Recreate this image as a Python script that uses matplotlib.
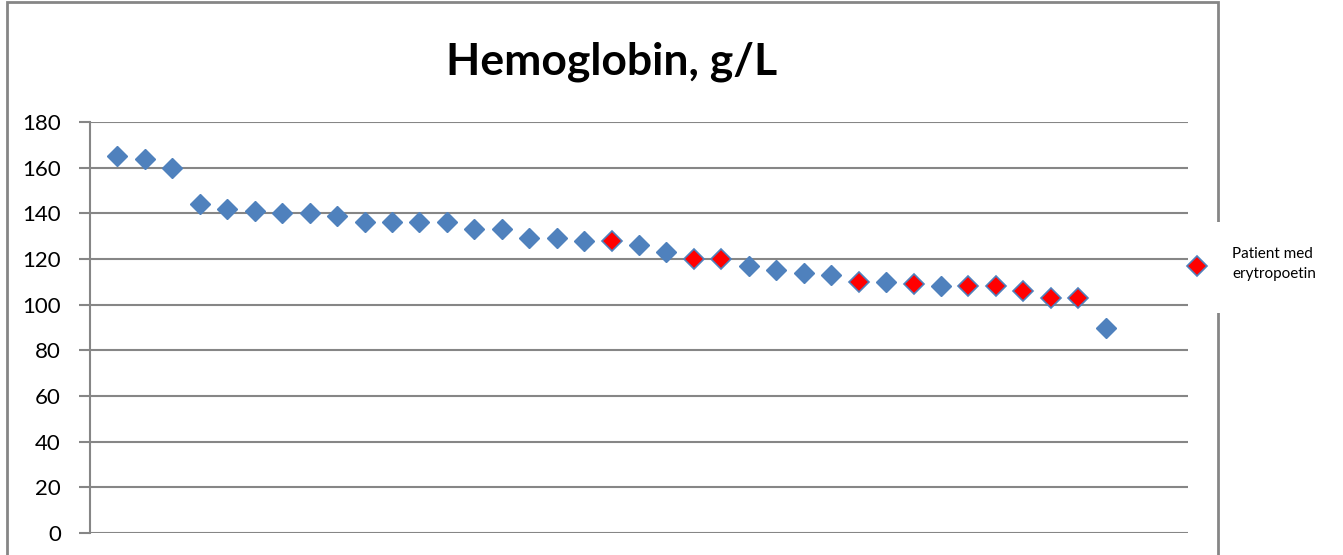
import matplotlib.pyplot as plt
from matplotlib.patches import Rectangle
from matplotlib.lines import Line2D

plt.rcParams['font.family'] = ['Lato', 'DejaVu Sans']

# Hemoglobin per patient, sorted high to low
hb = [165, 164, 160, 144, 142, 141, 140, 140, 139, 136, 136, 136, 136,
      133, 133, 129, 129, 128, 128, 126, 123, 120, 120, 117, 115, 114,
      113, 110, 110, 109, 108, 108, 108, 106, 103, 103, 90]
# 1-based positions of patients treated with erytropoetin
epo = [19, 22, 23, 28, 30, 32, 33, 34, 35, 36]
y_ticks = [0, 20, 40, 60, 80, 100, 120, 140, 160, 180]
legend_label = "Patient med\nerytropoetin"

blue = '#4F81BD'
red = '#FF0000'
grid_c = '#868686'

fig = plt.figure(figsize=(13.43, 5.55), dpi=100)
ax = fig.add_axes([90 / 1343, 1 - 533 / 555, 1098 / 1343, 411 / 555])

x_all = list(range(1, len(hb) + 1))
x_plain = [x for x in x_all if x not in epo]
ax.plot(x_plain, [hb[x - 1] for x in x_plain], 'D', ms=10.5, color=blue,
        mec=blue, zorder=3, clip_on=False)
ax.plot(epo, [hb[x - 1] for x in epo], 'D', ms=10.5, color=red,
        mec=blue, mew=1.2, zorder=4, clip_on=False)

ax.set_xlim(0, 40)
ax.set_ylim(0, 180)
ax.set_yticks(y_ticks)
ax.set_xticks([])
ax.yaxis.grid(True, color=grid_c, lw=1.5)
ax.set_axisbelow(True)
for s in ['top', 'right', 'bottom']:
    ax.spines[s].set_visible(False)
ax.spines['left'].set_color(grid_c)
ax.spines['left'].set_linewidth(1.5)
ax.tick_params(axis='y', length=8, width=1.5, color=grid_c, labelsize=16,
               pad=13)

fig.text(612 / 1343, 1 - 62 / 555, "Hemoglobin, g/L", ha='center',
         va='center', fontsize=32, fontweight='bold')

# outer chart frame
fig.add_artist(Rectangle((7 / 1343, -0.05), (1218 - 7) / 1343, 1.05 - 2 / 555,
                         transform=fig.transFigure, fill=False,
                         ec=grid_c, lw=2))

# legend
fig.add_artist(Rectangle((1190 / 1343, 1 - 313 / 555), 150 / 1343, 91 / 555,
                         transform=fig.transFigure, fc='white', ec='none',
                         zorder=5))
fig.add_artist(Line2D([1197 / 1343], [1 - 266 / 555], marker='D', ms=10.5,
                      color=red, mec=blue, mew=1.2,
                      transform=fig.transFigure, zorder=6))
fig.text(1232 / 1343, 1 - 264 / 555, legend_label, ha='left', va='center',
         fontsize=11, linespacing=1.6, zorder=6)

fig.savefig('out.png', dpi=100)
